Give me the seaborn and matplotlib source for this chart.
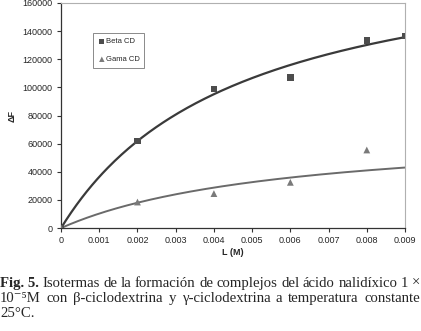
import numpy as np
import pandas as pd
import matplotlib.pyplot as plt
import seaborn as sns

# data
conc = [0, 0.002, 0.004, 0.006, 0.008, 0.009]
beta_cd = [0, 62000, 99000, 107000, 133500, 136500]
gama_conc = [0, 0.002, 0.004, 0.006, 0.008]
gama_cd = [0, 18500, 24500, 32500, 55500]

# hyperbolic isotherm fits (Fmax, Kd) estimated from the drawn curves
beta_fit = (206000, 0.00466)
gama_fit = (71300, 0.00592)

caption = [
    [("Fig. 5.", "bold"), ("Isotermas", "normal"), ("de", "normal"), ("la", "normal"),
     ("formación", "normal"), ("de", "normal"), ("complejos", "normal"), ("del", "normal"),
     ("ácido", "normal"), ("nalidíxico", "normal"), ("1", "normal"), ("×", "normal")],
    [("10⁻⁵M", "normal"), ("con", "normal"), ("β-ciclodextrina", "normal"), ("y", "normal"),
     ("γ-ciclodextrina", "normal"), ("a", "normal"), ("temperatura", "normal"),
     ("constante", "normal")],
    [("25°C.", "normal")],
]

sns.set_style("white")
plt.rcParams['font.family'] = ['Liberation Sans', 'DejaVu Sans']

fig = plt.figure(figsize=(4.21, 3.31), dpi=100)
ax = fig.add_axes([0.145, 0.311, 0.817, 0.68])

pts = pd.DataFrame({"L": conc, "dF": beta_cd})
pts_g = pd.DataFrame({"L": gama_conc, "dF": gama_cd})

L = np.linspace(0, 0.009, 200)
curve_b = pd.DataFrame({"L": L, "dF": beta_fit[0] * L / (beta_fit[1] + L)})
curve_g = pd.DataFrame({"L": L, "dF": gama_fit[0] * L / (gama_fit[1] + L)})

sns.lineplot(data=curve_b, x="L", y="dF", ax=ax, color="#3a3a3a", lw=1.6)
sns.lineplot(data=curve_g, x="L", y="dF", ax=ax, color="#6a6a6a", lw=1.4)
sns.scatterplot(data=pts, x="L", y="dF", ax=ax, marker="s", s=22,
                color="#4d4d4d", edgecolor="none", label="Beta CD", zorder=3)
sns.scatterplot(data=pts_g, x="L", y="dF", ax=ax, marker="^", s=24,
                color="#7a7a7a", edgecolor="none", label="Gama CD", zorder=3)

ax.set_xlim(0, 0.009)
ax.set_ylim(0, 160000)
ax.set_xticks(np.arange(0, 0.0091, 0.001))
ax.set_xticklabels(["0", "0.001", "0.002", "0.003", "0.004", "0.005",
                    "0.006", "0.007", "0.008", "0.009"])
ax.set_yticks(np.arange(0, 160001, 20000))
ax.tick_params(axis="both", labelsize=6.5, length=3, width=0.8, color="#333333",
               direction="out", pad=3, bottom=True, left=True)
ax.set_xlabel("L (M)", fontsize=6.5, fontweight="bold", labelpad=2)
ax.set_ylabel("ΔF", fontsize=6.5, fontweight="bold", labelpad=4)

for side in ["left", "bottom"]:
    ax.spines[side].set_color("#333333")
    ax.spines[side].set_linewidth(0.9)
for side in ["top", "right"]:
    ax.spines[side].set_color("#b0b0b0")
    ax.spines[side].set_linewidth(0.8)

leg = ax.legend(loc="upper left", bbox_to_anchor=(0.093, 0.867), fontsize=5.5,
                frameon=True, fancybox=False, handletextpad=0.0,
                handlelength=1, labelspacing=1.4, borderpad=0.65,
                borderaxespad=0, markerscale=0.8)
leg.get_frame().set_edgecolor("#555555")
leg.get_frame().set_linewidth(0.6)

# caption, justified like the printed page
serif = ['Liberation Serif', 'DejaVu Serif']
fs = 10.6
fig.canvas.draw()
r = fig.canvas.get_renderer()
W = fig.bbox.width
for i, words in enumerate(caption):
    y = 1 - (287 + 15 * i) / 331
    texts = [fig.text(0, y, w, family=serif, fontweight=wt, fontsize=fs, va="baseline")
             for w, wt in words]
    widths = [t.get_window_extent(r).width for t in texts]
    if len(texts) > 1 and i < len(caption) - 1:
        gap = (W - 1 - sum(widths)) / (len(texts) - 1)
    else:
        gap = 3
    x = 0
    for t, w in zip(texts, widths):
        t.set_x(x / W)
        x += w + gap

fig.savefig("out.png", dpi=100)
